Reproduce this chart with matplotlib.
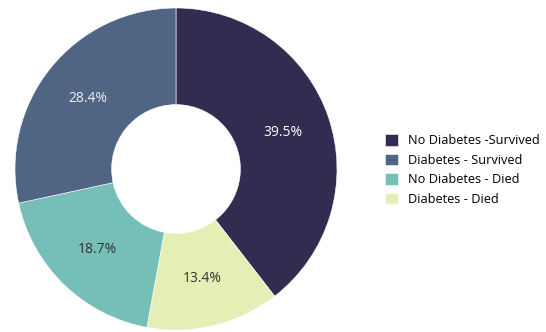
import matplotlib.pyplot as plt

labels = ['No Diabetes -Survived', 'Diabetes - Died', 'No Diabetes - Died', 'Diabetes - Survived']
shares = [39.5, 13.4, 18.7, 28.4]
colors = ['#332b50', '#e5efb5', '#76bfb8', '#506584']
text_colors = ['white', '#333333', '#333333', '#eeeeee']
legend_order = [0, 3, 2, 1]

plt.rcParams['font.family'] = ['Open Sans', 'DejaVu Sans']

fig = plt.figure(figsize=(5.46, 3.32), dpi=100)
W, H = 546, 332
cx, cy, r = 176, 169, 161
ax = fig.add_axes([(cx - r) / W, (H - cy - r) / H, 2 * r / W, 2 * r / H])

wedges, texts, autotexts = ax.pie(
    shares, colors=colors, startangle=90, counterclock=False,
    autopct='%1.1f%%', pctdistance=0.70,
    wedgeprops=dict(width=0.60, edgecolor='white', linewidth=0.4),
    textprops=dict(fontsize=10))
for t, c in zip(autotexts, text_colors):
    t.set_color(c)
ax.set_xlim(-1, 1)
ax.set_ylim(-1, 1)
ax.set_aspect('equal')

fig.legend([wedges[i] for i in legend_order], [labels[i] for i in legend_order],
           loc='upper left', bbox_to_anchor=(379 / W, 1 - 128 / H),
           frameon=False, fontsize=9.2, handlelength=0.95, handleheight=1.0,
           handletextpad=0.85, labelspacing=0.5, borderpad=0)

fig.savefig('out.png', dpi=100)
